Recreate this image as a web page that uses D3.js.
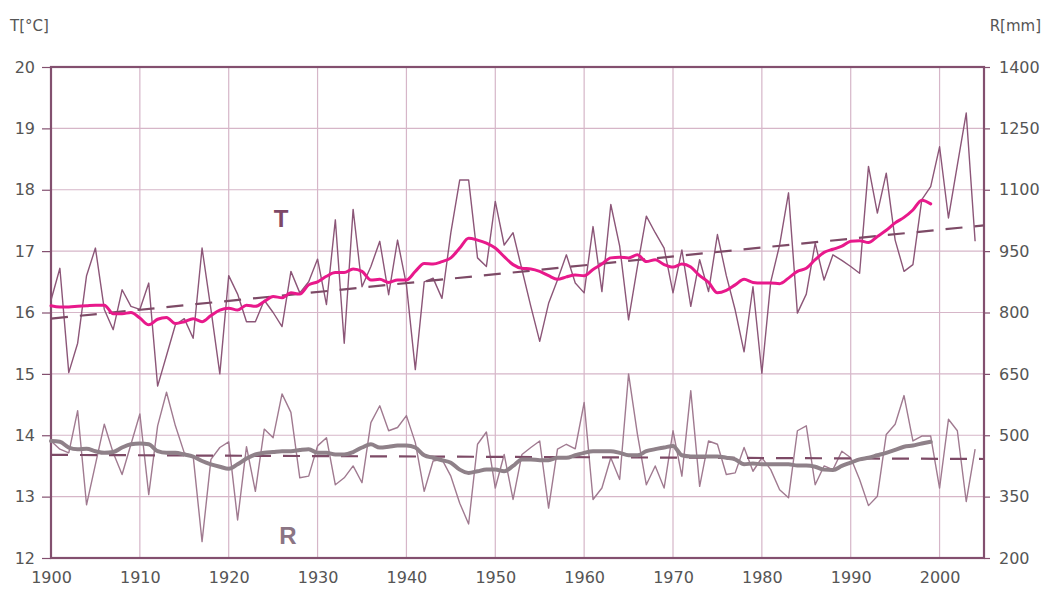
<!DOCTYPE html>
<html>
<head>
<meta charset="utf-8">
<script src="https://cdn.jsdelivr.net/npm/d3@7"></script>
<style>
  html, body { margin: 0; padding: 0; background: #ffffff; }
  svg { display: block; }
</style>
</head>
<body>
<svg id="chart" width="1046" height="597"></svg>
<script>
// Annual mean temperature (°C) and annual precipitation (mm), 1900–2004
const years = d3.range(1900, 2005);

const temperature = [
  16.2, 16.72, 15.02, 15.5, 16.6, 17.05, 16.05, 15.72, 16.37, 16.1,
  16.05, 16.48, 14.8, 15.3, 15.8, 15.9, 15.58, 17.05, 16.05, 15.0,
  16.6, 16.3, 15.85, 15.85, 16.2, 16.0, 15.77, 16.67, 16.32, 16.5,
  16.87, 16.13, 17.51, 15.5, 17.68, 16.42, 16.75, 17.16, 16.29, 17.18,
  16.45, 15.07, 16.5, 16.56, 16.23, 17.3, 18.16, 18.16, 16.89, 16.75,
  17.81, 17.1, 17.3, 16.7, 16.1, 15.53, 16.15, 16.53, 16.94, 16.48,
  16.32, 17.4, 16.34, 17.76, 17.08, 15.88, 16.75, 17.57, 17.3, 17.05,
  16.32, 17.02, 16.1, 16.86, 16.34, 17.27, 16.6, 16.04, 15.36, 16.42,
  15.01, 16.5, 17.1, 17.95, 15.99, 16.3, 17.13, 16.53, 16.94, 16.85,
  16.75, 16.64, 18.38, 17.62, 18.27, 17.18, 16.67, 16.78, 17.84, 18.05,
  18.7, 17.54, 18.4, 19.25, 17.16
];

const precipitation = [
  486, 466, 457, 560, 330, 429, 527, 457, 404, 478,
  552, 355, 523, 605, 523, 457, 449, 240, 441, 470,
  484, 293, 472, 363, 515, 494, 601, 556, 396, 400,
  474, 494, 379, 396, 425, 384, 531, 572, 511, 519,
  548, 482, 363, 437, 441, 400, 334, 283, 478, 508,
  371, 453, 343, 453, 470, 486, 322, 466, 478, 467,
  580, 343, 371, 445, 392, 650, 502, 379, 425, 371,
  511, 400, 609, 375, 486, 478, 404, 408, 470, 412,
  445, 416, 367, 347, 511, 523, 379, 425, 416, 461,
  445, 392, 328, 351, 502, 527, 597, 486, 498, 498,
  371, 539, 511, 338, 466
];

// Smoothed curves, 1900–1999
const smoothYears = d3.range(1900, 2000);

const temperatureSmooth = [
  16.11, 16.09, 16.09, 16.1, 16.11, 16.12, 16.12, 15.98, 15.98, 16.0,
  15.91, 15.8, 15.89, 15.92, 15.82, 15.85, 15.9, 15.85, 15.95, 16.04,
  16.07, 16.04, 16.12, 16.1, 16.18, 16.26, 16.24, 16.32, 16.3, 16.45,
  16.5, 16.59, 16.65, 16.65, 16.71, 16.67, 16.53, 16.54, 16.49, 16.53,
  16.53, 16.67, 16.8, 16.79, 16.83, 16.89, 17.05, 17.21, 17.18, 17.13,
  17.05, 16.91, 16.78, 16.72, 16.71, 16.67, 16.6, 16.54, 16.58, 16.61,
  16.6, 16.7, 16.79, 16.89, 16.9, 16.89, 16.94, 16.83, 16.86, 16.78,
  16.74, 16.79, 16.74, 16.6, 16.49, 16.32, 16.36, 16.45, 16.54, 16.49,
  16.48, 16.48, 16.47, 16.56, 16.67, 16.72, 16.86, 16.98, 17.03, 17.08,
  17.16, 17.17, 17.14, 17.24, 17.34, 17.46, 17.55, 17.67, 17.83, 17.77
];

const precipitationSmooth = [
  486, 484, 470, 466, 467, 461, 457, 459, 470, 478,
  480, 478, 461, 457, 457, 453, 448, 437, 429, 423,
  418, 429, 443, 453, 457, 459, 461, 461, 464, 466,
  457, 457, 453, 453, 459, 470, 478, 470, 472, 475,
  475, 470, 451, 445, 439, 433, 416, 408, 412, 416,
  416, 412, 425, 441, 441, 439, 439, 445, 445, 451,
  457, 461, 461, 461, 457, 451, 451, 461, 466, 470,
  474, 451, 448, 448, 448, 448, 445, 441, 429, 431,
  429, 429, 429, 429, 426, 426, 423, 416, 415, 425,
  433, 441, 445, 451, 457, 464, 472, 475, 480, 484
];

// Linear trends over the full period
const trendYears = [1900, 2005];
const temperatureTrend = [15.9, 17.42];
const precipitationTrend = [452, 442];

// Axis ticks
const tempTicks = d3.range(12, 21, 1);
const rainTicks = d3.range(200, 1401, 150);
const yearTicks = d3.range(1900, 2001, 10);

const svg = d3.select("#chart");
const plot = { left: 51, right: 984, top: 67, bottom: 558 };

const x = d3.scaleLinear().domain([1900, 2005]).range([plot.left, plot.right]);
const yT = d3.scaleLinear().domain([12, 20]).range([plot.bottom, plot.top]);
const yR = d3.scaleLinear().domain([200, 1400]).range([plot.bottom, plot.top]);

const frameColor = "#83506f";
const gridColor = "#d6b6c8";
const tickText = "#555555";
const font = "'DejaVu Sans', sans-serif";

// Gridlines
const grid = svg.append("g");
grid.selectAll("line.h").data(tempTicks).join("line")
  .attr("x1", plot.left).attr("x2", plot.right)
  .attr("y1", d => yT(d)).attr("y2", d => yT(d))
  .attr("stroke", gridColor).attr("stroke-width", 1.2);
grid.selectAll("line.v").data(yearTicks).join("line")
  .attr("x1", d => x(d)).attr("x2", d => x(d))
  .attr("y1", plot.top).attr("y2", plot.bottom)
  .attr("stroke", gridColor).attr("stroke-width", 1.2);

// Axes
const axisLeft = d3.axisLeft(yT).tickValues(tempTicks).tickSize(9).tickPadding(7).tickFormat(d3.format("d"));
const axisRight = d3.axisRight(yR).tickValues(rainTicks).tickSize(6).tickPadding(9).tickFormat(d3.format("d"));
const axisBottom = d3.axisBottom(x).tickValues(yearTicks).tickSize(0).tickPadding(14).tickFormat(d3.format("d"));

function styleAxis(g) {
  g.select(".domain").remove();
  g.selectAll(".tick line").attr("stroke", frameColor).attr("stroke-width", 1.2);
  g.selectAll(".tick text")
    .attr("fill", tickText)
    .style("font-family", font)
    .style("font-size", "16px");
}

svg.append("g").attr("transform", `translate(${plot.left},0)`).call(axisLeft).call(styleAxis);
svg.append("g").attr("transform", `translate(${plot.right},0)`).call(axisRight).call(styleAxis);
svg.append("g").attr("transform", `translate(0,${plot.bottom})`).call(axisBottom).call(styleAxis);

// Plot frame
svg.append("rect")
  .attr("x", plot.left).attr("y", plot.top)
  .attr("width", plot.right - plot.left).attr("height", plot.bottom - plot.top)
  .attr("fill", "none").attr("stroke", frameColor).attr("stroke-width", 2.2);

// Axis unit labels
svg.append("text").attr("x", 10).attr("y", 31)
  .attr("fill", tickText).style("font-family", font).style("font-size", "15px")
  .text("T[°C]");
svg.append("text").attr("x", 1041).attr("y", 31).attr("text-anchor", "end")
  .attr("fill", tickText).style("font-family", font).style("font-size", "15px")
  .text("R[mm]");

// Series
const lineT = d3.line().x((d, i) => x(years[i])).y(d => yT(d));
const lineR = d3.line().x((d, i) => x(years[i])).y(d => yR(d));
const lineTs = d3.line().x((d, i) => x(smoothYears[i])).y(d => yT(d)).curve(d3.curveMonotoneX);
const lineRs = d3.line().x((d, i) => x(smoothYears[i])).y(d => yR(d)).curve(d3.curveMonotoneX);
const trendT = d3.line().x((d, i) => x(trendYears[i])).y(d => yT(d));
const trendR = d3.line().x((d, i) => x(trendYears[i])).y(d => yR(d));

const series = svg.append("g");

// Precipitation: annual values, trend, smoothed curve
series.append("path").datum(precipitation).attr("d", lineR)
  .attr("fill", "none").attr("stroke", "#a07a90").attr("stroke-width", 1.4)
  .attr("stroke-linejoin", "round");
series.append("path").datum(precipitationTrend).attr("d", trendR)
  .attr("fill", "none").attr("stroke", "#7d4a66").attr("stroke-width", 2.2)
  .attr("stroke-dasharray", "17,12");
series.append("path").datum(precipitationSmooth).attr("d", lineRs)
  .attr("fill", "none").attr("stroke", "#8f8189").attr("stroke-width", 4)
  .attr("stroke-linejoin", "round").attr("stroke-linecap", "round");

// Temperature: annual values, trend, smoothed curve
series.append("path").datum(temperature).attr("d", lineT)
  .attr("fill", "none").attr("stroke", "#8c5678").attr("stroke-width", 1.4)
  .attr("stroke-linejoin", "round");
series.append("path").datum(temperatureTrend).attr("d", trendT)
  .attr("fill", "none").attr("stroke", "#7d4a66").attr("stroke-width", 2.2)
  .attr("stroke-dasharray", "17,12");
series.append("path").datum(temperatureSmooth).attr("d", lineTs)
  .attr("fill", "none").attr("stroke", "#e8198b").attr("stroke-width", 3)
  .attr("stroke-linejoin", "round").attr("stroke-linecap", "round");

// Series letters
svg.append("text").attr("x", 281).attr("y", 227).attr("text-anchor", "middle")
  .attr("fill", "#7d4866").style("font-family", "'Liberation Sans', Arial, sans-serif")
  .style("font-size", "24px").style("font-weight", "bold").text("T");
svg.append("text").attr("x", 288).attr("y", 544).attr("text-anchor", "middle")
  .attr("fill", "#8b7584").style("font-family", "'Liberation Sans', Arial, sans-serif")
  .style("font-size", "24px").style("font-weight", "bold").text("R");
</script>
</body>
</html>
